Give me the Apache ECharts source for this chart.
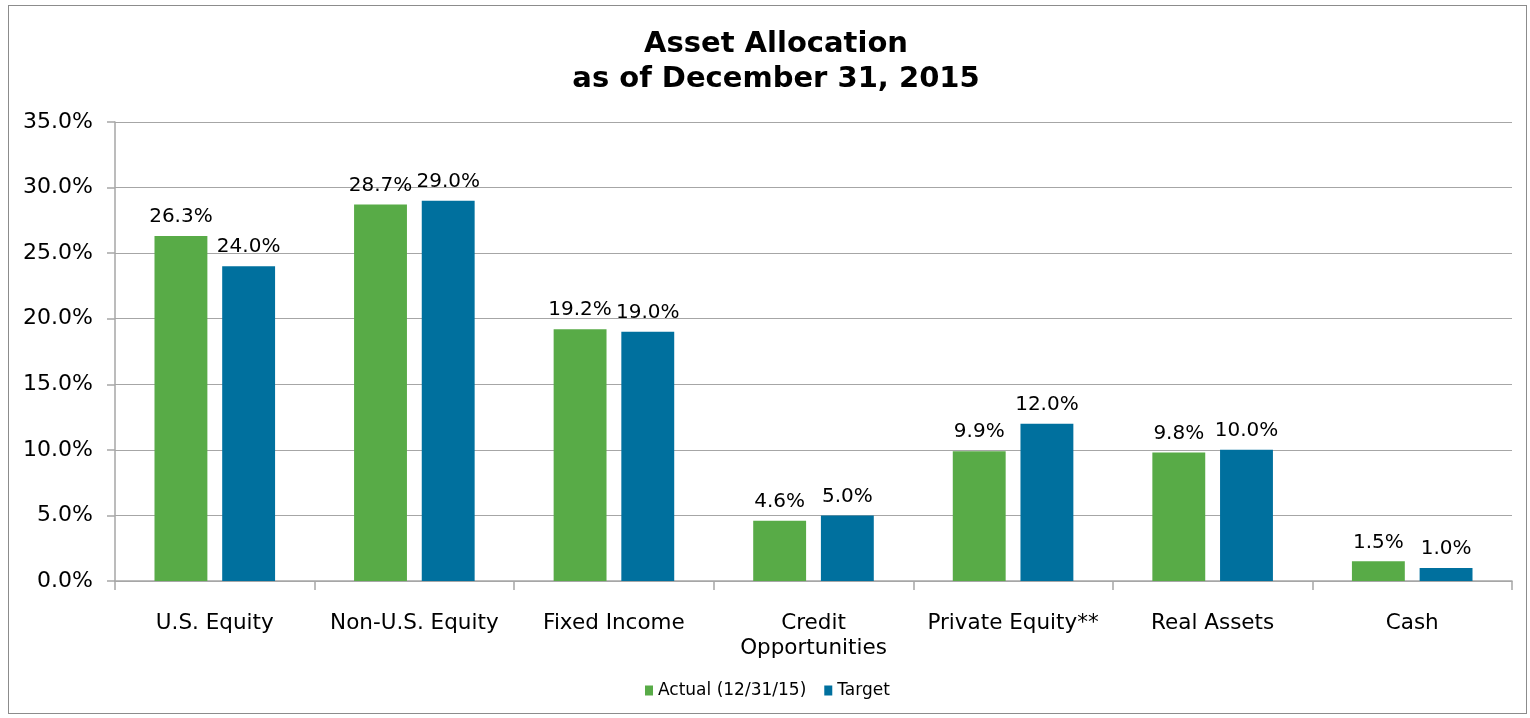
<!DOCTYPE html>
<html>
<head>
<meta charset="utf-8">
<script src="https://cdn.jsdelivr.net/npm/echarts@6/dist/echarts.min.js"></script>
<style>
  html, body { margin: 0; padding: 0; background: #fff; }
  #frame { position: absolute; left: 8px; top: 5px; width: 1519px; height: 709px;
    border: 1px solid #8c8c8c; box-sizing: border-box; }
  #chart { position: absolute; left: 0; top: 0; width: 1530px; height: 718px; }
</style>
</head>
<body>
<div id="frame"></div>
<div id="chart"></div>
<script>
// 资产配置：实际 vs 目标（%）
const categories = ['U.S. Equity', 'Non-U.S. Equity', 'Fixed Income', 'Credit\nOpportunities',
  'Private Equity**', 'Real Assets', 'Cash'];
const actual = [26.3, 28.7, 19.2, 4.6, 9.9, 9.8, 1.5];
const target = [24.0, 29.0, 19.0, 5.0, 12.0, 10.0, 1.0];
const seriesNames = ['Actual (12/31/15)', 'Target'];

const FONT = '"DejaVu Sans", Verdana, sans-serif';
const GREEN = '#58ab47';
const BLUE = '#00709e';
const GRID = '#a6a6a6';

const chart = echarts.init(document.getElementById('chart'), null, { renderer: 'canvas' });

const pct = (p) => p.value.toFixed(1) + '%';

chart.setOption({
  backgroundColor: 'transparent',
  animation: false,
  textStyle: { fontFamily: FONT, color: '#000' },
  title: {
    text: 'Asset Allocation\nas of December 31, 2015',
    left: 771, textAlign: 'center', top: 22,
    textStyle: { fontFamily: FONT, fontSize: 29, fontWeight: 'bold', color: '#000', lineHeight: 35 },
  },
  grid: { left: 115, right: 18, top: 122, bottom: 137, containLabel: false },
  legend: {
    data: seriesNames, bottom: 14, left: 640,
    itemWidth: 8, itemHeight: 10, itemGap: 18,
    textStyle: { fontFamily: FONT, fontSize: 17, color: '#000' },
    icon: 'rect',
  },
  xAxis: {
    type: 'category', data: categories,
    axisLine: { lineStyle: { color: GRID, width: 1.5 } },
    axisTick: { show: true, length: 9, lineStyle: { color: GRID, width: 1.5 } },
    axisLabel: { fontFamily: FONT, fontSize: 21.5, color: '#000', margin: 30, lineHeight: 25, interval: 0 },
  },
  yAxis: {
    type: 'value', min: 0, max: 35, interval: 5,
    axisLine: { show: true, lineStyle: { color: GRID, width: 1.5 } },
    axisTick: { show: true, length: 8, lineStyle: { color: GRID, width: 1.5 } },
    splitLine: { lineStyle: { color: GRID, width: 1.2 } },
    axisLabel: { fontFamily: FONT, fontSize: 22, color: '#000', margin: 22,
      formatter: (v) => v.toFixed(1) + '%' },
  },
  series: [
    { name: seriesNames[0], type: 'bar', data: actual, barWidth: '26.5%', barGap: '28%',
      itemStyle: { color: GREEN },
      label: { show: true, position: 'top', distance: 9, fontFamily: FONT, fontSize: 20, color: '#000', formatter: pct } },
    { name: seriesNames[1], type: 'bar', data: target, barWidth: '26.5%', barGap: '28%',
      itemStyle: { color: BLUE },
      label: { show: true, position: 'top', distance: 9, fontFamily: FONT, fontSize: 20, color: '#000', formatter: pct } },
  ],
});
</script>
</body>
</html>
